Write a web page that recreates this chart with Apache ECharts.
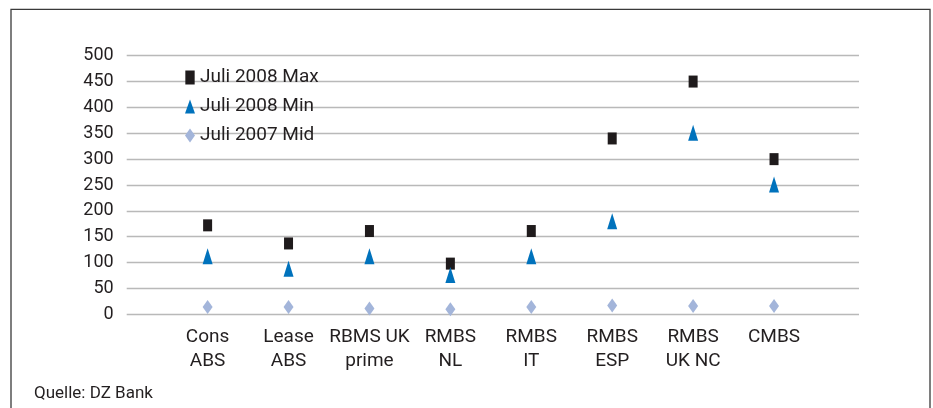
<!DOCTYPE html>
<html>
<head>
<meta charset="utf-8">
<style>
  html, body { margin: 0; padding: 0; background: #ffffff; }
  #chart { width: 933px; height: 408px; }
</style>
<script src="https://cdn.jsdelivr.net/npm/echarts@6/dist/echarts.min.js"></script>
</head>
<body>
<div id="chart"></div>
<script>
// Spread levels of securitisation classes (basis points)
const categories = ['Cons\nABS', 'Lease\nABS', 'RBMS UK\nprime', 'RMBS\nNL', 'RMBS\nIT', 'RMBS\nESP', 'RMBS\nUK NC', 'CMBS'];
const seriesNames = ['Juli 2008 Max', 'Juli 2008 Min', 'Juli 2007 Mid'];
const max2008 = [172, 137, 161, 98, 161, 340, 450, 300];
const min2008 = [112, 88, 112, 76, 112, 180, 351, 251];
const mid2007 = [14, 14, 11, 10, 14, 17, 16, 16];
const yTicks = [0, 50, 100, 150, 200, 250, 300, 350, 400, 450, 500];
const sourceNote = 'Quelle: DZ Bank';

const FONT = 'Roboto';
const TEXT = '#231f20';

// categories sit at positions 1..n on a numeric x axis
const toPoints = vals => vals.map((v, i) => [i + 1, v]);

const chart = echarts.init(document.getElementById('chart'), null, { renderer: 'canvas' });

chart.setOption({
  backgroundColor: '#ffffff',
  animation: false,
  textStyle: { fontFamily: FONT, color: TEXT },
  grid: { left: 126.7, right: 74, top: 55.7, bottom: 93.7, containLabel: false },
  legend: {
    orient: 'vertical',
    left: 185,
    top: 67.5,
    padding: 0,
    itemWidth: 10,
    itemHeight: 14,
    itemGap: 9,
    selectedMode: false,
    textStyle: { fontFamily: FONT, fontSize: 19, color: TEXT, lineHeight: 20 },
    data: [
      { name: seriesNames[0], icon: 'path://M0,0H8V12H0Z' },
      { name: seriesNames[1], icon: 'triangle' },
      { name: seriesNames[2], icon: 'diamond' }
    ]
  },
  xAxis: {
    type: 'value',
    min: 0,
    max: 9.05,
    interval: 1,
    splitLine: { show: false },
    axisTick: { show: false },
    axisLine: { show: false },
    axisLabel: {
      fontFamily: FONT,
      fontSize: 19,
      lineHeight: 24,
      color: TEXT,
      margin: 11,
      showMinLabel: false,
      showMaxLabel: false,
      formatter: v => (Number.isInteger(v) && v >= 1 && v <= categories.length) ? categories[v - 1] : ''
    }
  },
  yAxis: {
    type: 'value',
    min: yTicks[0],
    max: yTicks[yTicks.length - 1],
    interval: yTicks[1] - yTicks[0],
    axisLine: { show: false },
    axisTick: { show: false },
    splitLine: { show: true, lineStyle: { color: '#b9b9b9', width: 1.3 } },
    axisLabel: { fontFamily: FONT, fontSize: 18, color: TEXT, margin: 13 }
  },
  series: [
    {
      name: seriesNames[0],
      type: 'scatter',
      symbol: 'rect',
      symbolSize: [9, 12],
      itemStyle: { color: '#1f1b1c', opacity: 1 },
      data: toPoints(max2008),
      z: 3
    },
    {
      name: seriesNames[1],
      type: 'scatter',
      symbol: 'triangle',
      symbolSize: [10, 16],
      itemStyle: { color: '#0072bc', opacity: 1 },
      data: toPoints(min2008),
      z: 4
    },
    {
      name: seriesNames[2],
      type: 'scatter',
      symbol: 'diamond',
      symbolSize: [10, 14],
      itemStyle: { color: '#a3b5da', opacity: 1 },
      data: toPoints(mid2007),
      z: 2
    }
  ],
  graphic: [
    {
      type: 'rect',
      shape: { x: 11, y: 9.3, width: 919, height: 430 },
      style: { fill: 'none', stroke: '#3a3a3a', lineWidth: 1.3 },
      silent: true,
      z: 0
    },
    {
      type: 'text',
      x: 34,
      y: 394,
      style: { text: sourceNote, fontFamily: FONT, fontSize: 17, fill: TEXT, verticalAlign: 'middle' },
      silent: true
    }
  ]
});
</script>
</body>
</html>
